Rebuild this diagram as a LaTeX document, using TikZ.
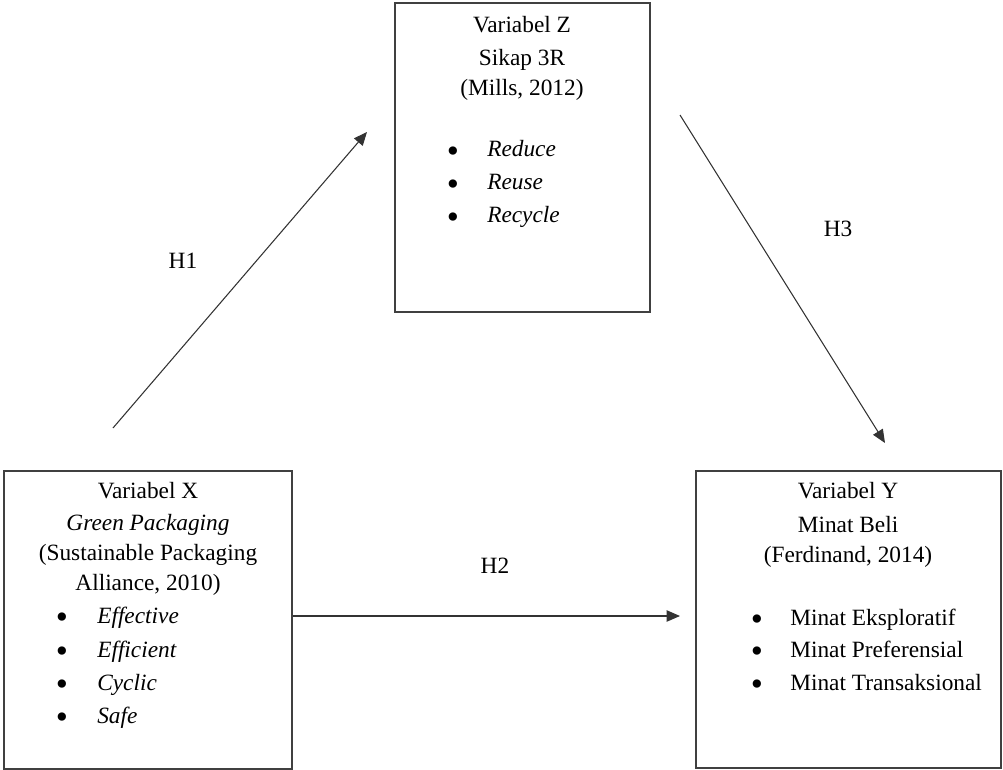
\documentclass[tikz,border=0pt]{standalone}
\usepackage{fontspec}
\setmainfont{Liberation Serif}
\usetikzlibrary{arrows.meta}
\begin{document}
\begin{tikzpicture}[x=0.75pt,y=-0.75pt,
  box/.style={draw=black!75, line width=1.1pt, rectangle, inner sep=0pt},
  txt/.style={font=\fontsize{17.5}{24}\selectfont, anchor=base, inner sep=0pt},
  itm/.style={font=\fontsize{17.5}{24}\selectfont\itshape, anchor=base west, inner sep=0pt},
  itmr/.style={font=\fontsize{17.5}{24}\selectfont, anchor=base west, inner sep=0pt},
  bul/.style={font=\fontsize{26}{30}\selectfont, anchor=base, inner sep=0pt, yshift=-4.2pt},
  conn/.style={draw=black!80, line width=0.8pt, -{Triangle[length=10pt,width=8.5pt]}}]
\useasboundingbox (0,0) rectangle (1003,770);
% boxes
\node[box, minimum width={255*0.75pt}, minimum height={309*0.75pt}] (Z) at (522.5,157.5) {};
\node[box, minimum width={288*0.75pt}, minimum height={298*0.75pt}] (X) at (148,620) {};
\node[box, minimum width={305*0.75pt}, minimum height={297*0.75pt}] (Y) at (848.5,619.5) {};
% Z text
\node[txt] (z1) at (522,33) {Variabel Z};
\node[txt] (z2) at (522,66) {Sikap 3R};
\node[txt] (z3) at (522,96) {(Mills, 2012)};
\node[bul] (zb1) at (453,157) {•};
\node[bul] (zb2) at (453,190) {•};
\node[bul] (zb3) at (453,223) {•};
\node[itm] (zi1) at (487,157) {Reduce};
\node[itm] (zi2) at (487,190) {Reuse};
\node[itm] (zi3) at (487,223) {Recycle};
% X text
\node[txt] (x1) at (148,498) {Variabel X};
\node[txt, font=\fontsize{17.5}{24}\selectfont\itshape] (x2) at (148,530) {Green Packaging};
\node[txt] (x3) at (148,560) {(Sustainable Packaging};
\node[txt] (x4) at (148,590) {Alliance, 2010)};
\node[bul] (xb1) at (62,623) {•};
\node[bul] (xb2) at (62,657) {•};
\node[bul] (xb3) at (62,690) {•};
\node[bul] (xb4) at (62,723) {•};
\node[itm] (xi1) at (97,623) {Effective};
\node[itm] (xi2) at (97,657) {Efficient};
\node[itm] (xi3) at (97,690) {Cyclic};
\node[itm] (xi4) at (97,723) {Safe};
% Y text
\node[txt] (y1) at (848,498) {Variabel Y};
\node[txt] (y2) at (848,532) {Minat Beli};
\node[txt] (y3) at (848,562) {(Ferdinand, 2014)};
\node[bul] (yb1) at (757,625) {•};
\node[bul] (yb2) at (757,657) {•};
\node[bul] (yb3) at (757,690) {•};
\node[itmr] (yi1) at (790,625) {Minat Eksploratif};
\node[itmr] (yi2) at (790,657) {Minat Preferensial};
\node[itmr] (yi3) at (790,690) {Minat Transaksional};
% connectors
\coordinate (h1s) at (113,428);
\coordinate (h1e) at (367,132);
\coordinate (h3s) at (680,115);
\coordinate (h3e) at (885,443);
\coordinate (h2e) at (680,616);
\draw[conn] (h1s) -- (h1e);
\draw[conn] (h3s) -- (h3e);
\draw[conn] (X.east |- h2e) -- (h2e);
% labels
\node[txt] (H1) at (183,268) {H1};
\node[txt] (H2) at (495,573) {H2};
\node[txt] (H3) at (838,237) {H3};
\end{tikzpicture}
\end{document}
